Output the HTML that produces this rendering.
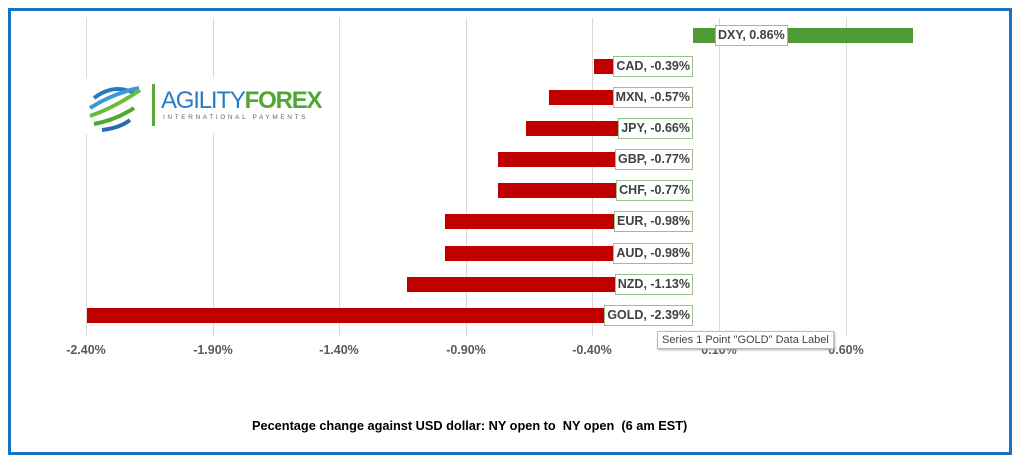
<!DOCTYPE html>
<html><head><style>
body{margin:0;width:1024px;height:461px;background:#fff;font-family:"Liberation Sans",sans-serif;overflow:hidden;position:relative}
.frame{position:absolute;left:8px;top:8px;width:1004px;height:447px;border:3px solid #1b72c4;box-sizing:border-box}
.g{position:absolute;top:18px;height:318px;width:1px;background:#d9d9d9}
.bar{position:absolute;height:15px;background:#c00000}
.lbl{position:absolute;height:19px;line-height:19px;background:#fff;border:1px solid #9dc08b;font-size:12.5px;font-weight:bold;color:#404040;padding:0 2px;white-space:nowrap}
.ax{position:absolute;top:343px;font-size:12.5px;font-weight:bold;color:#595959;width:80px;text-align:center}
</style></head><body>
<div class="frame"></div>
<div class="g" style="left:86px"></div><div class="g" style="left:213px"></div><div class="g" style="left:339px"></div><div class="g" style="left:466px"></div><div class="g" style="left:592px"></div><div class="g" style="left:719px"></div><div class="g" style="left:846px"></div>
<div class="bar" style="left:693px;width:220px;top:28px;background:#4e9a36"></div>
<div class="lbl" style="left:715px;top:25px">DXY, 0.86%</div>
<div class="bar" style="left:594px;width:99px;top:59px"></div><div class="lbl" style="right:331px;top:56px">CAD, -0.39%</div>
<div class="bar" style="left:549px;width:144px;top:90px"></div><div class="lbl" style="right:331px;top:87px">MXN, -0.57%</div>
<div class="bar" style="left:526px;width:167px;top:121px"></div><div class="lbl" style="right:331px;top:118px">JPY, -0.66%</div>
<div class="bar" style="left:498px;width:195px;top:152px"></div><div class="lbl" style="right:331px;top:149px">GBP, -0.77%</div>
<div class="bar" style="left:498px;width:195px;top:183px"></div><div class="lbl" style="right:331px;top:180px">CHF, -0.77%</div>
<div class="bar" style="left:445px;width:248px;top:214px"></div><div class="lbl" style="right:331px;top:211px">EUR, -0.98%</div>
<div class="bar" style="left:445px;width:248px;top:246px"></div><div class="lbl" style="right:331px;top:243px">AUD, -0.98%</div>
<div class="bar" style="left:407px;width:286px;top:277px"></div><div class="lbl" style="right:331px;top:274px">NZD, -1.13%</div>
<div class="bar" style="left:87px;width:606px;top:308px"></div><div class="lbl" style="right:331px;top:305px">GOLD, -2.39%</div>
<div class="ax" style="left:46px">-2.40%</div><div class="ax" style="left:173px">-1.90%</div><div class="ax" style="left:299px">-1.40%</div><div class="ax" style="left:426px">-0.90%</div><div class="ax" style="left:552px">-0.40%</div><div class="ax" style="left:679px">0.10%</div><div class="ax" style="left:806px">0.60%</div>
<div style="position:absolute;left:657px;top:331px;height:16px;line-height:16px;padding:0 4px;background:#fff;border:1px solid #bbb;box-shadow:1px 1px 2px #aaa;font-size:11px;color:#444">Series 1 Point "GOLD" Data Label</div>
<div style="position:absolute;left:84px;top:78px;width:250px;height:56px;background:#fff">
<svg width="60" height="56" style="position:absolute;left:0;top:0"><g fill="none" stroke-width="4"><path d="M10 20 Q30 5 50 15" stroke="#2a78c2"/><path d="M6 30 Q30 15 55 10" stroke="#3a9ad6"/><path d="M6 38 Q30 30 56 12" stroke="#6cbc3c"/><path d="M10 46 Q32 42 50 30" stroke="#4ea832"/><path d="M18 52 Q36 50 46 42" stroke="#2a6ab0"/></g></svg>
<div style="position:absolute;left:68px;top:6px;width:3px;height:42px;background:#5aa83a"></div>
<div style="position:absolute;left:77px;top:9px;font-size:24px;letter-spacing:-1.2px;color:#2a7bc4;white-space:nowrap">AGILITY<b style="color:#4ea832">FOREX</b></div>
<div style="position:absolute;left:79px;top:36px;font-size:6.5px;letter-spacing:2.6px;color:#666;white-space:nowrap">INTERNATIONAL PAYMENTS</div>
</div>
<div style="position:absolute;left:252px;width:460px;top:418px;font-size:12.75px;font-weight:bold;color:#000;white-space:nowrap">Pecentage change against USD dollar: NY open to&nbsp; NY open&nbsp; (6 am EST)</div>
</body></html>
